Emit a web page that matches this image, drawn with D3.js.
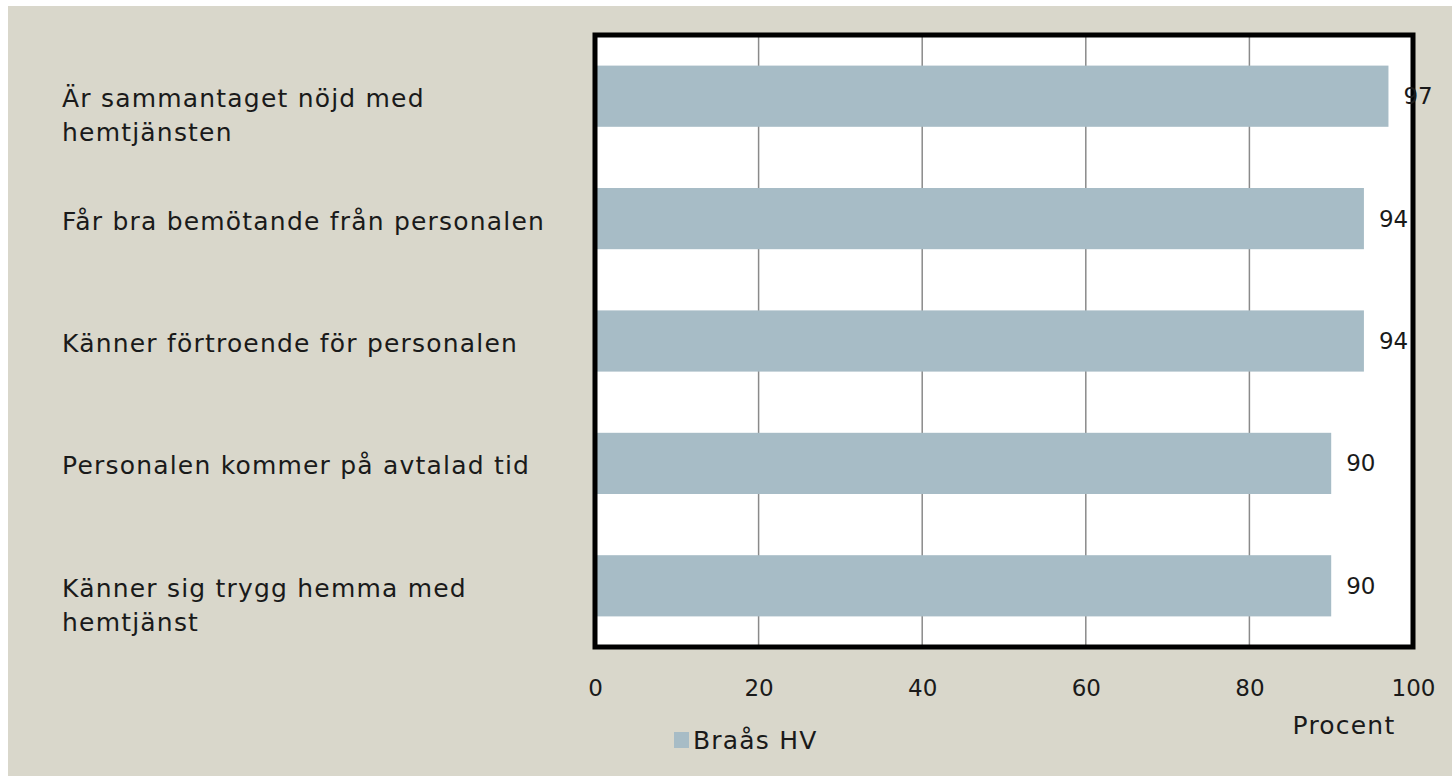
<!DOCTYPE html>
<html lang="sv">
<head>
<meta charset="UTF-8">
<title>Nöjdhet hemtjänst</title>
<style>
  body { margin: 0; background: #fff; }
  svg text { font-family: "DejaVu Sans", sans-serif; fill: #1a1a1a; }
</style>
</head>
<body>
<div id="chart"></div>
<script src="https://cdn.jsdelivr.net/npm/d3@7"></script>
<script>
// data
const categories = [
  "Är sammantaget nöjd med hemtjänsten",
  "Får bra bemötande från personalen",
  "Känner förtroende för personalen",
  "Personalen kommer på avtalad tid",
  "Känner sig trygg hemma med hemtjänst"
];
const values = [97, 94, 94, 90, 90];
const xTicks = [0, 20, 40, 60, 80, 100];
const seriesName = "Braås HV";
const axisTitle = "Procent";

const width = 1452, height = 776;
const plot = { left: 595, right: 1413, top: 35, bottom: 647 };
const barColor = "#a7bcc6";
const labelFont = "25px", labelSpacing = "1.2px";

const svg = d3.select("#chart").append("svg")
  .attr("width", width)
  .attr("height", height);

// beige backdrop
svg.append("rect")
  .attr("x", 8).attr("y", 6)
  .attr("width", width - 8).attr("height", height - 6)
  .attr("fill", "#d9d7cb");

// plot area
svg.append("rect")
  .attr("x", plot.left).attr("y", plot.top)
  .attr("width", plot.right - plot.left).attr("height", plot.bottom - plot.top)
  .attr("fill", "#fff");

const x = d3.scaleLinear().domain([0, 100]).range([plot.left, plot.right]);
const y = d3.scaleBand().domain(categories)
  .range([plot.top, plot.bottom])
  .paddingInner(0.5).paddingOuter(0.25);

// grid lines
svg.append("g")
  .selectAll("line")
  .data(xTicks.filter(t => t > 0 && t < 100))
  .join("line")
  .attr("x1", d => x(d)).attr("x2", d => x(d))
  .attr("y1", plot.top).attr("y2", plot.bottom)
  .attr("stroke", "#8a8a8a").attr("stroke-width", 1.5);

// bars
svg.append("g")
  .selectAll("rect")
  .data(values)
  .join("rect")
  .attr("x", x(0))
  .attr("y", (d, i) => y(categories[i]))
  .attr("width", d => x(d) - x(0))
  .attr("height", y.bandwidth())
  .attr("fill", barColor);

// frame on top
svg.append("rect")
  .attr("x", plot.left).attr("y", plot.top)
  .attr("width", plot.right - plot.left).attr("height", plot.bottom - plot.top)
  .attr("fill", "none")
  .attr("stroke", "#000").attr("stroke-width", 5);

// value labels
svg.append("g")
  .selectAll("text")
  .data(values)
  .join("text")
  .attr("x", d => x(d) + 15)
  .attr("y", (d, i) => y(categories[i]) + y.bandwidth() / 2)
  .attr("dy", "0.35em")
  .style("font-size", "23px")
  .text(d => d);

// x axis tick labels (no line)
const xAxis = svg.append("g")
  .attr("transform", `translate(0,${plot.bottom})`)
  .call(d3.axisBottom(x).tickValues(xTicks).tickSize(0).tickPadding(33));
xAxis.select(".domain").remove();
xAxis.selectAll("text")
  .style("font-size", "23px")
  .style("font-family", "'DejaVu Sans', sans-serif")
  .attr("fill", "#1a1a1a");

svg.append("text")
  .attr("x", 1344).attr("y", 734)
  .attr("text-anchor", "middle")
  .style("font-size", labelFont)
  .style("letter-spacing", labelSpacing)
  .text(axisTitle);

// category labels, wrapped
function wrap(textSel, maxWidth) {
  textSel.each(function () {
    const t = d3.select(this);
    const words = t.text().split(" ");
    const x0 = t.attr("x");
    t.text(null);
    let line = [];
    let tspan = t.append("tspan").attr("x", x0).attr("dy", 0);
    words.forEach(w => {
      line.push(w);
      tspan.text(line.join(" "));
      if (tspan.node().getComputedTextLength() > maxWidth && line.length > 1) {
        line.pop();
        tspan.text(line.join(" "));
        line = [w];
        tspan = t.append("tspan").attr("x", x0).attr("dy", 34).text(w);
      }
    });
  });
}

svg.append("g")
  .selectAll("text")
  .data(categories)
  .join("text")
  .attr("x", 62)
  .attr("y", d => y(d) + y.bandwidth() / 2 + 11)
  .style("font-size", labelFont)
  .style("letter-spacing", labelSpacing)
  .text(d => d)
  .call(wrap, 500);

// legend
const legend = svg.append("g").attr("transform", "translate(674,732)");
legend.append("rect")
  .attr("width", 15).attr("height", 16)
  .attr("fill", barColor);
legend.append("text")
  .attr("x", 19).attr("y", 17)
  .style("font-size", labelFont)
  .style("letter-spacing", labelSpacing)
  .text(seriesName);
</script>
</body>
</html>
